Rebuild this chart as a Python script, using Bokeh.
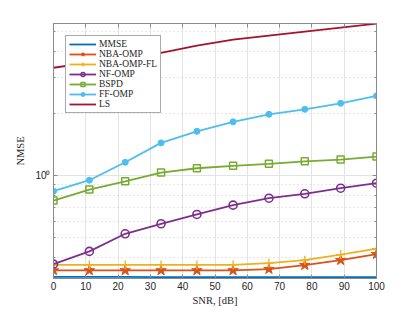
from bokeh.plotting import figure
from bokeh.models import (FixedTicker, LinearAxis, LogAxis, Legend, LegendItem)
from bokeh.embed import file_html
from bokeh.resources import INLINE

snr = [0, 11.1, 22.2, 33.3, 44.4, 55.6, 66.7, 77.8, 88.9, 100]
mmse = [0.322, 0.322, 0.322, 0.321, 0.321, 0.321, 0.321, 0.321, 0.321, 0.321]
nba_omp = [0.346, 0.346, 0.346, 0.346, 0.346, 0.346, 0.351, 0.367, 0.388, 0.415]
nba_omp_fl = [0.368, 0.368, 0.368, 0.368, 0.368, 0.368, 0.375, 0.388, 0.413, 0.441]
nf_omp = [0.371, 0.428, 0.521, 0.583, 0.647, 0.718, 0.776, 0.815, 0.868, 0.918]
bspd = [0.756, 0.855, 0.938, 1.034, 1.085, 1.115, 1.140, 1.173, 1.196, 1.236]
ff_omp = [0.839, 0.949, 1.16, 1.441, 1.64, 1.823, 1.984, 2.098, 2.244, 2.438]
ls = [3.34, 3.54, 3.74, 3.95, 4.28, 4.57, 4.78, 5.00, 5.23, 5.47]

x_ticks = [0, 10, 20, 30, 40, 50, 60, 70, 80, 90, 100]
y_major = [1]
y_minor = [0.4, 0.5, 0.6, 0.7, 0.8, 0.9, 2, 3, 4, 5]

AX = "#8a8a8a"
SERIF = "Liberation Serif"
SANS = "Liberation Sans"

p = figure(width=415, height=312, y_axis_type="log",
           x_range=(0, 100), y_range=(0.316, 5.48),
           output_backend="svg", toolbar_location=None,
           min_border_left=53, min_border_right=39,
           min_border_top=23, min_border_bottom=34)

p.outline_line_color = AX
p.outline_line_width = 1
p.background_fill_color = "white"
p.border_fill_color = "white"

xt = FixedTicker(ticks=x_ticks)
yt = FixedTicker(ticks=y_major, minor_ticks=y_minor)

p.xaxis.ticker = xt
p.yaxis.ticker = yt
p.yaxis.major_label_overrides = {1: "10\u2070"}

for ax in [p.xaxis[0], p.yaxis[0]]:
    ax.axis_line_color = AX
    ax.major_tick_line_color = AX
    ax.minor_tick_line_color = AX
    ax.major_tick_in = 4
    ax.major_tick_out = 0
    ax.minor_tick_in = 2
    ax.minor_tick_out = 0
    ax.major_label_text_font = SANS
    ax.major_label_text_font_size = "10px"
    ax.major_label_text_color = "#262626"
    ax.axis_label_text_font = SERIF
    ax.axis_label_text_font_style = "normal"
    ax.axis_label_text_font_size = "10.5px"
    ax.axis_label_text_color = "#262626"
    ax.major_label_standoff = 3
    ax.axis_label_standoff = 2

p.yaxis.axis_label_standoff = 6
p.xaxis.axis_label = "SNR, [dB]"
p.yaxis.axis_label = "NMSE"
p.xaxis.minor_tick_line_color = None

top = LinearAxis(ticker=xt, major_label_text_color=None,
                 major_label_text_font_size="2px",
                 major_label_standoff=0, axis_line_color=AX,
                 major_tick_line_color=AX, major_tick_in=4, major_tick_out=0,
                 minor_tick_line_color=None)
p.add_layout(top, "above")
right = LogAxis(ticker=yt, major_label_text_color=None,
                major_label_text_font_size="2px",
                major_label_standoff=0, axis_line_color=AX,
                major_tick_line_color=AX, major_tick_in=4, major_tick_out=0,
                minor_tick_line_color=AX, minor_tick_in=2, minor_tick_out=0)
p.add_layout(right, "right")

p.xgrid.ticker = xt
p.xgrid.grid_line_color = "#e3e3e3"
p.xgrid.grid_line_width = 1
p.ygrid.ticker = yt
p.ygrid.grid_line_color = "#e3e3e3"
p.ygrid.minor_grid_line_color = "#cfcfcf"
p.ygrid.minor_grid_line_dash = "1 3"

LW = 1.8
items = []

r = p.line(snr, mmse, line_color="#0072BD", line_width=LW)
items.append(LegendItem(label="MMSE", renderers=[r]))

r1 = p.line(snr, nba_omp, line_color="#D95319", line_width=LW)
r2 = p.scatter(snr, nba_omp, marker="star", size=11, fill_color="#D95319",
               line_color="#D95319")
items.append(LegendItem(label="NBA-OMP", renderers=[r1, r2]))

r1 = p.line(snr, nba_omp_fl, line_color="#EDB120", line_width=LW)
r2 = p.scatter(snr, nba_omp_fl, marker="cross", size=9, line_color="#EDB120",
               line_width=1.3)
items.append(LegendItem(label="NBA-OMP-FL", renderers=[r1, r2]))

r1 = p.line(snr, nf_omp, line_color="#7E2F8E", line_width=LW)
r2 = p.scatter(snr, nf_omp, marker="circle", size=8, fill_color=None,
               line_color="#7E2F8E", line_width=1.6)
items.append(LegendItem(label="NF-OMP", renderers=[r1, r2]))

r1 = p.line(snr, bspd, line_color="#77AC30", line_width=LW)
r2 = p.scatter(snr, bspd, marker="square", size=7, fill_color=None,
               line_color="#77AC30", line_width=1.5)
items.append(LegendItem(label="BSPD", renderers=[r1, r2]))

r1 = p.line(snr, ff_omp, line_color="#4DBEEE", line_width=LW)
r2 = p.scatter(snr, ff_omp, marker="circle", size=6, fill_color="#4DBEEE",
               line_color="#4DBEEE")
items.append(LegendItem(label="FF-OMP", renderers=[r1, r2]))

r = p.line(snr, ls, line_color="#A2142F", line_width=LW)
items.append(LegendItem(label="LS", renderers=[r]))

legend = Legend(items=items, location="top_left", margin=12,
                padding=3, spacing=-1, label_height=10, glyph_height=10,
                glyph_width=27, label_standoff=3,
                label_text_font=SERIF, label_text_font_size="9.5px",
                label_text_color="#262626",
                border_line_color="#555555", border_line_width=1,
                background_fill_color="white", background_fill_alpha=1)
p.add_layout(legend, "center")

open("out.html", "w").write(file_html(p, INLINE))
